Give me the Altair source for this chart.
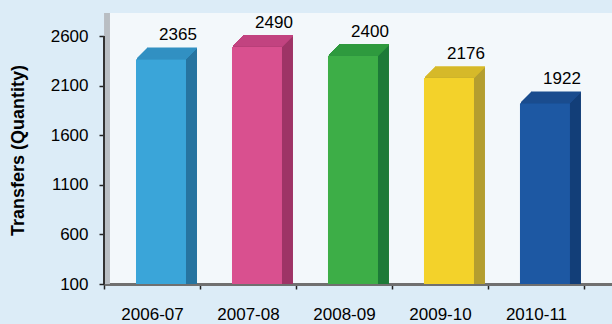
import altair as alt
import pandas as pd

# ---- data ----
years = ["2006-07", "2007-08", "2008-09", "2009-10", "2010-11"]
transfers = [2365, 2490, 2400, 2176, 1922]
y_ticks = [100, 600, 1100, 1600, 2100, 2600]

# ---- palette (front / top / side faces) ----
front_colors = ["#3aa5d9", "#d9508f", "#3dae47", "#f3d22a", "#1d58a3"]
top_colors = ["#3190c2", "#c24380", "#2f9a3f", "#d9bb2a", "#1a4c8e"]
side_colors = ["#2674a0", "#9e3466", "#1d7a38", "#b49e2f", "#123e78"]

df = pd.DataFrame({"year": years, "transfers": transfers, "base": [100] * len(years)})

FONT = "Liberation Sans, Arial, sans-serif"
BAR_W = 50
SHIFT = 9
DEPTH = 11

x_enc = alt.X(
    "year:N",
    sort=years,
    scale=alt.Scale(paddingInner=0, paddingOuter=0.146, align=0),
    axis=alt.Axis(
        title=None, labelFont=FONT, labelFontSize=17, labelColor="black",
        labelPadding=17, tickBand="extent", tickSize=5, tickColor="#222222",
        tickWidth=1.5, domainColor="#707070", domainWidth=3, labelAngle=0,
        grid=False,
    ),
)
y_enc = alt.Y(
    "transfers:Q",
    scale=alt.Scale(domain=[100, 2832], nice=False, zero=False),
    axis=alt.Axis(
        title="Transfers (Quantity)", values=y_ticks, format="d",
        labelFont=FONT, labelFontSize=17, labelColor="black", labelPadding=11,
        tickSize=5, tickColor="#222222", tickWidth=1.5, domain=False, grid=False,
        titleFont=FONT, titleFontSize=18, titleFontWeight="bold",
        titleColor="black", titleX=-86, titleY=137, titleAngle=270,
        titleAlign="center", titleBaseline="middle",
    ),
)

def col(rng):
    return alt.Color("year:N", scale=alt.Scale(domain=years, range=rng), legend=None)

base = alt.Chart(df)

wall = base.mark_rule(color="#b9bec3", strokeWidth=5).encode(
    x=alt.value(3), y=alt.value(0), y2=alt.value(271)
)
yaxis_line = base.mark_rule(color="#333333", strokeWidth=1.5).encode(
    x=alt.value(0), y=alt.Y(datum=100), y2=alt.Y2(datum=2600)
)

layers = [wall, yaxis_line]
for i in range(1, DEPTH + 1):
    layers.append(
        base.mark_bar(width=BAR_W, xOffset=SHIFT + i, yOffset=-i).encode(
            x=x_enc, y=y_enc, y2="base", color=col(side_colors)
        )
    )
for i in range(1, DEPTH + 1):
    layers.append(
        base.mark_tick(size=BAR_W, thickness=1.6, xOffset=SHIFT + i, yOffset=-i, opacity=1).encode(
            x=x_enc, y=y_enc, color=col(top_colors)
        )
    )
layers.append(
    base.mark_bar(width=BAR_W, xOffset=SHIFT).encode(
        x=x_enc, y=y_enc, y2="base", color=col(front_colors)
    )
)
layers.append(
    base.mark_text(dx=26, dy=-19, baseline="alphabetic", fontSize=17, font=FONT, color="black").encode(
        x=x_enc, y=y_enc, text="transfers:Q"
    )
)

chart = (
    alt.layer(*layers)
    .resolve_scale(color="independent")
    .properties(
        width=508, height=271,
        autosize=alt.AutoSizeParams(type="none"),
        padding={"left": 104, "top": 13, "right": 0, "bottom": 40},
        background="#dcecf7",
    )
    .configure_view(fill="#f3f8fb", strokeWidth=0)
)

chart.save("out.html", embed_options={"renderer": "svg", "actions": False})
